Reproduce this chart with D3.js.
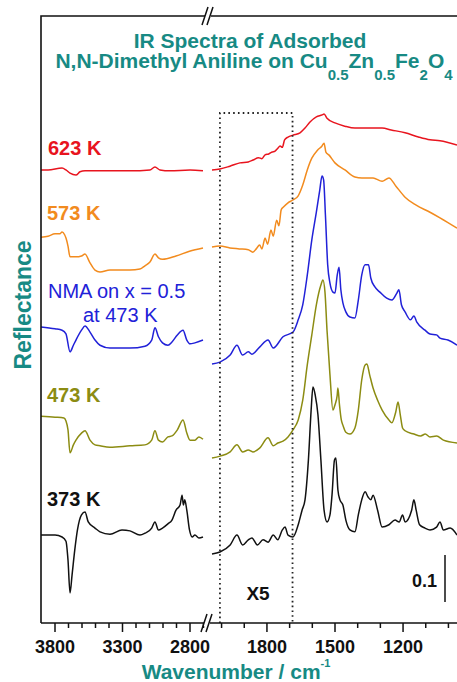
<!DOCTYPE html>
<html>
<head>
<meta charset="utf-8">
<title>IR Spectra of Adsorbed N,N-Dimethyl Aniline</title>
<script src="https://cdn.jsdelivr.net/npm/d3@7"></script>
<style>
  body { margin: 0; background: #fff; }
  svg { display: block; font-family: "Liberation Sans", Arial, sans-serif; }
  .spec { fill: none; stroke-width: 1.5px; stroke-linejoin: round; }
  .axis text { font-weight: bold; font-size: 18px; fill: #111; font-family: "Liberation Sans", Arial, sans-serif; }
  .axis line { stroke: #111; stroke-width: 1.5px; }
  .axis path { display: none; }
  .teal { fill: #178a84; font-weight: bold; }
</style>
</head>
<body>
<svg id="chart" width="457" height="682"></svg>
<script>
// wavenumber (cm-1), reflectance (stacked, arbitrary offset)
var k623Left = [[3900,0.964],[3848,0.964],[3744,0.968],[3715,0.964],[3685,0.957],[3641,0.953],[3611,0.960],
  [3574,0.962],[3463,0.962],[3241,0.962],[3093,0.964],[3056,0.970],[3019,0.964],[2944,0.962],[2796,0.964],[2700,0.962]];
var k623Right = [[2040,0.964],[2005,0.966],[1961,0.972],[1917,0.979],[1880,0.981],[1859,0.985],[1835,0.990],[1820,0.988],
  [1806,0.996],[1790,0.998],[1775,1.002],[1762,1.004],[1750,1.010],[1740,1.015],[1730,1.012],[1720,1.028],[1705,1.034],
  [1683,1.038],[1652,1.043],[1630,1.053],[1608,1.066],[1580,1.077],[1555,1.081],[1546,1.083],[1533,1.074],[1498,1.064],
  [1454,1.057],[1410,1.053],[1350,1.053],[1290,1.053],[1250,1.049],[1189,1.043],[1130,1.034],[1079,1.028],[1035,1.026],[960,1.017]];

var k573Left = [[3900,0.821],[3848,0.823],[3796,0.828],[3760,0.828],[3744,0.832],[3725,0.826],[3715,0.819],[3700,0.802],
  [3685,0.779],[3641,0.779],[3600,0.781],[3574,0.785],[3540,0.768],[3500,0.751],[3463,0.747],[3389,0.751],[3241,0.751],
  [3167,0.753],[3130,0.760],[3093,0.768],[3056,0.785],[3030,0.777],[3000,0.774],[2900,0.781],[2800,0.791],[2700,0.798]];
var k573Right = [[2040,0.800],[2005,0.802],[1961,0.798],[1920,0.796],[1880,0.794],[1860,0.789],[1845,0.796],[1830,0.804],
  [1820,0.796],[1806,0.819],[1795,0.806],[1780,0.836],[1770,0.823],[1755,0.857],[1745,0.845],[1735,0.879],[1725,0.885],
  [1705,0.894],[1683,0.900],[1660,0.909],[1640,0.932],[1620,0.964],[1600,0.989],[1575,1.006],[1555,1.015],[1546,1.021],
  [1538,1.002],[1525,0.996],[1498,0.979],[1454,0.964],[1410,0.949],[1379,0.947],[1330,0.947],[1290,0.940],[1260,0.947],
  [1230,0.930],[1189,0.906],[1140,0.889],[1079,0.874],[1035,0.862],[960,0.840]];

var nmaLeft = [[3900,0.630],[3796,0.626],[3744,0.623],[3715,0.615],[3685,0.577],[3660,0.591],[3641,0.602],[3600,0.623],
  [3574,0.632],[3537,0.619],[3500,0.602],[3463,0.591],[3389,0.585],[3241,0.585],[3130,0.589],[3080,0.602],[3056,0.628],
  [3030,0.609],[3000,0.596],[2960,0.591],[2930,0.598],[2890,0.613],[2848,0.623],[2820,0.602],[2796,0.594],[2760,0.596],[2700,0.602]];
var nmaRight = [[2040,0.551],[2005,0.555],[1960,0.570],[1930,0.591],[1905,0.570],[1880,0.577],[1864,0.572],[1830,0.587],
  [1793,0.602],[1770,0.585],[1727,0.609],[1683,0.619],[1660,0.645],[1640,0.677],[1620,0.740],[1600,0.815],[1580,0.874],
  [1565,0.921],[1555,0.951],[1548,0.943],[1540,0.868],[1530,0.762],[1520,0.723],[1507,0.704],[1498,0.702],[1488,0.740],
  [1480,0.757],[1472,0.709],[1463,0.681],[1450,0.662],[1432,0.651],[1410,0.649],[1395,0.687],[1380,0.740],[1365,0.762],
  [1350,0.762],[1340,0.734],[1322,0.715],[1300,0.704],[1270,0.691],[1247,0.687],[1225,0.702],[1216,0.709],[1205,0.677],
  [1189,0.662],[1165,0.645],[1150,0.653],[1137,0.640],[1101,0.623],[1079,0.615],[1050,0.613],[1035,0.606],[1000,0.602],[960,0.591]];

var k473Left = [[3900,0.440],[3796,0.438],[3730,0.436],[3715,0.430],[3700,0.411],[3685,0.362],[3660,0.379],[3641,0.389],
  [3600,0.404],[3574,0.409],[3537,0.389],[3500,0.379],[3463,0.377],[3389,0.374],[3241,0.377],[3130,0.379],[3080,0.389],
  [3056,0.409],[3030,0.389],[3000,0.385],[2960,0.396],[2930,0.398],[2890,0.411],[2848,0.432],[2820,0.404],[2796,0.389],
  [2760,0.389],[2730,0.396],[2700,0.391]];
var k473Right = [[2040,0.351],[2005,0.355],[1960,0.364],[1930,0.379],[1905,0.364],[1880,0.368],[1860,0.364],[1830,0.372],
  [1793,0.394],[1770,0.377],[1750,0.383],[1727,0.387],[1705,0.396],[1683,0.411],[1660,0.432],[1640,0.474],[1620,0.549],
  [1600,0.613],[1580,0.677],[1560,0.719],[1551,0.730],[1542,0.704],[1533,0.623],[1520,0.528],[1507,0.453],[1498,0.464],
  [1488,0.485],[1485,0.500],[1478,0.464],[1470,0.432],[1463,0.421],[1450,0.406],[1432,0.402],[1410,0.415],[1395,0.453],
  [1380,0.517],[1365,0.549],[1357,0.551],[1345,0.528],[1330,0.500],[1310,0.474],[1290,0.453],[1260,0.432],[1247,0.426],
  [1230,0.449],[1220,0.470],[1210,0.443],[1200,0.415],[1189,0.409],[1150,0.402],[1120,0.398],[1100,0.402],[1079,0.396],
  [1050,0.398],[1020,0.389],[960,0.383]];

var k373Left = [[3900,0.187],[3796,0.187],[3744,0.183],[3715,0.174],[3700,0.134],[3685,0.064],[3670,0.102],[3650,0.155],
  [3630,0.198],[3600,0.230],[3574,0.236],[3550,0.215],[3500,0.202],[3463,0.194],[3389,0.189],[3300,0.198],[3241,0.196],
  [3167,0.187],[3130,0.191],[3080,0.202],[3056,0.215],[3030,0.198],[3000,0.202],[2960,0.211],[2930,0.219],[2900,0.240],
  [2870,0.251],[2855,0.272],[2845,0.251],[2835,0.262],[2820,0.240],[2800,0.198],[2780,0.183],[2760,0.187],[2730,0.181],[2700,0.183]];
var k373Right = [[2040,0.147],[2005,0.151],[1960,0.166],[1930,0.187],[1905,0.166],[1880,0.177],[1864,0.181],[1840,0.166],
  [1815,0.177],[1793,0.172],[1770,0.187],[1750,0.177],[1730,0.198],[1718,0.204],[1705,0.187],[1683,0.183],[1660,0.209],
  [1643,0.240],[1630,0.262],[1615,0.347],[1603,0.453],[1595,0.502],[1585,0.485],[1573,0.443],[1560,0.347],[1546,0.240],
  [1533,0.215],[1520,0.230],[1511,0.272],[1500,0.347],[1494,0.351],[1485,0.283],[1476,0.262],[1463,0.251],[1450,0.219],
  [1432,0.198],[1410,0.194],[1395,0.230],[1380,0.262],[1365,0.279],[1352,0.268],[1340,0.262],[1330,0.272],[1310,0.240],
  [1290,0.204],[1260,0.209],[1233,0.219],[1215,0.215],[1200,0.230],[1189,0.215],[1160,0.240],[1150,0.262],[1140,0.240],
  [1125,0.209],[1101,0.202],[1079,0.198],[1050,0.204],[1035,0.215],[1020,0.198],[990,0.202],[960,0.187]];

var leftTicks = [3800, 3700, 3600, 3500, 3400, 3300, 3200, 3100, 3000, 2900, 2800, 2700];
var leftLabels = [3800, 3300, 2800];
var rightTicks = [2000, 1900, 1800, 1700, 1600, 1500, 1400, 1300, 1200, 1100, 1000];
var rightLabels = [1800, 1500, 1200];
var x5Region = [2005, 1685];   // magnified x5 window
var scaleBar = 0.1;

var spectra = [
  { name: '623 K', color: '#e8141e', left: k623Left, right: k623Right, lx: 48, ly: 155 },
  { name: '573 K', color: '#f28b1e', left: k573Left, right: k573Right, lx: 47, ly: 220 },
  { name: 'NMA', color: '#2121d8', left: nmaLeft, right: nmaRight, lx: 48, ly: 298 },
  { name: '473 K', color: '#8c8c12', left: k473Left, right: k473Right, lx: 47, ly: 402 },
  { name: '373 K', color: '#111111', left: k373Left, right: k373Right, lx: 47, ly: 506 }
];

var svg = d3.select('#chart'),
  width = +svg.attr('width'),
  height = +svg.attr('height');

var frame = { left: 41, top: 16, bottom: 623, right: 457 };

var xL = d3.scaleLinear().domain([3900, 2700]).range([41, 203]);
var xR = d3.scaleLinear().domain([2040, 960]).range([212, 457]);
var y = d3.scaleLinear().domain([0, 1]).range([frame.bottom, frame.bottom - 470]);

// spectra
spectra.forEach(s => {
  [[s.left, xL], [s.right, xR]].forEach(seg => {
    var line = d3.line()
      .x(d => seg[1](d[0]))
      .y(d => y(d[1]))
      .curve(d3.curveMonotoneX);
    svg.append('path')
      .datum(seg[0])
      .attr('class', 'spec')
      .attr('stroke', s.color)
      .attr('d', line);
  });
  if (s.name == 'NMA') {
    svg.append('text').attr('fill', s.color).style('font-size', '20px')
      .attr('x', s.lx).attr('y', s.ly).text('NMA on x = 0.5');
    svg.append('text').attr('fill', s.color).style('font-size', '20px')
      .attr('x', 83).attr('y', s.ly + 24).text('at 473 K');
  } else {
    svg.append('text')
      .attr('x', s.lx).attr('y', s.ly)
      .attr('fill', s.color)
      .style('font-size', '20px').style('font-weight', 'bold')
      .text(s.name);
  }
});

// x5 dotted box
svg.append('path')
  .attr('d', 'M' + xR(x5Region[0]) + ',' + frame.bottom + 'V113H' + xR(x5Region[1]) + 'V' + frame.bottom)
  .attr('fill', 'none')
  .attr('stroke', '#222')
  .attr('stroke-width', 1.8)
  .attr('stroke-dasharray', '1.6,3.2');

svg.append('text').attr('x', 258).attr('y', 600)
  .attr('text-anchor', 'middle')
  .style('font-size', '19px').style('font-weight', 'bold').attr('fill', '#111')
  .text('X5');

// scale bar
svg.append('line')
  .attr('x1', 445).attr('x2', 445)
  .attr('y1', 602).attr('y2', 602 - (y(0) - y(scaleBar)))
  .attr('stroke', '#111').attr('stroke-width', 1.5);
svg.append('text').attr('x', 437).attr('y', 587)
  .attr('text-anchor', 'end')
  .style('font-size', '18px').style('font-weight', 'bold').attr('fill', '#111')
  .text(scaleBar);

// axes
function drawAxis(scale, ticks, labels) {
  svg.append('g').attr('class', 'axis')
    .attr('transform', 'translate(0,' + frame.bottom + ')')
    .call(d3.axisBottom(scale).tickValues(ticks.filter(v => labels.indexOf(v) < 0)).tickSize(5).tickFormat(''));
  svg.append('g').attr('class', 'axis')
    .attr('transform', 'translate(0,' + frame.bottom + ')')
    .call(d3.axisBottom(scale).tickValues(labels).tickSize(9).tickPadding(8).tickFormat(d3.format('d')));
}
drawAxis(xL, leftTicks, leftLabels);
drawAxis(xR, rightTicks, rightLabels);

var ax = svg.append('g').attr('stroke', '#111').attr('stroke-width', 1.6).attr('fill', 'none');
ax.append('path').attr('d', 'M' + frame.left + ',' + frame.bottom + 'V' + frame.top + 'H' + frame.right);
ax.append('path').attr('d', 'M' + frame.left + ',' + frame.bottom + 'H' + frame.right);

// axis break marks
function brk(cx, cy) {
  svg.append('rect').attr('x', cx - 3).attr('y', cy - 3).attr('width', 6).attr('height', 6).attr('fill', '#fff');
  svg.append('path')
    .attr('d', 'M' + (cx - 6) + ',' + (cy + 9) + 'L' + (cx) + ',' + (cy - 9) +
      'M' + (cx - 1) + ',' + (cy + 9) + 'L' + (cx + 5) + ',' + (cy - 9))
    .attr('stroke', '#111').attr('stroke-width', 1.5);
}
brk(207, frame.bottom);
brk(208, frame.top);

// rich text: pieces laid out one after another, centred on cx
function richText(cx, base, pieces) {
  var g = svg.append('g').attr('class', 'teal');
  var nodes = pieces.map(p => g.append('text')
    .attr('y', base + p.dy)
    .style('font-size', p.size + 'px')
    .text(p.t));
  var widths = nodes.map(n => n.node().getComputedTextLength());
  var x = cx - d3.sum(widths) / 2;
  nodes.forEach((n, i) => { n.attr('x', x); x += widths[i]; });
}

svg.append('text').attr('class', 'teal').attr('x', 250).attr('y', 48)
  .attr('text-anchor', 'middle').style('font-size', '21px')
  .text('IR Spectra of Adsorbed');

var big = 21, sub = 15;
richText(254, 68, [
  { t: 'N,N-Dimethyl Aniline on Cu', size: big, dy: 0 },
  { t: '0.5', size: sub, dy: 12 },
  { t: 'Zn', size: big, dy: 0 },
  { t: '0.5', size: sub, dy: 12 },
  { t: 'Fe', size: big, dy: 0 },
  { t: '2', size: sub, dy: 12 },
  { t: 'O', size: big, dy: 0 },
  { t: '4', size: sub, dy: 12 }
]);

svg.append('text').attr('class', 'teal')
  .attr('transform', 'translate(31,305) rotate(-90)')
  .attr('text-anchor', 'middle').style('font-size', '23px')
  .text('Reflectance');

richText(236, 679, [
  { t: 'Wavenumber / cm', size: 21, dy: 0 },
  { t: '-1', size: 11, dy: -12 }
]);
</script>
</body>
</html>
